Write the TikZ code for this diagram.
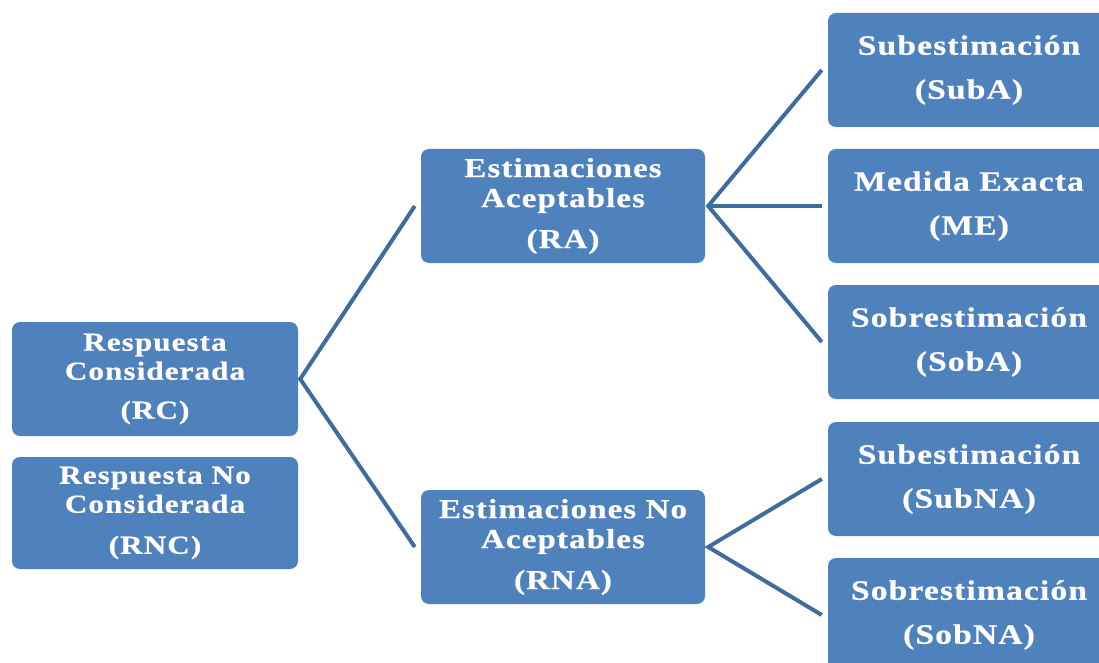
\documentclass[tikz,border=0pt]{standalone}
\usepackage{fontspec}
\newfontfamily\boxfont{Liberation Serif Bold}[LetterSpace=4,FakeStretch=1.2,FakeBold=0.6]
\definecolor{boxblue}{HTML}{4F81BD}
\definecolor{lineblue}{HTML}{3E6C9F}
\begin{document}
\begin{tikzpicture}[x=1pt,y=-1pt,
  box/.style={fill=boxblue,rounded corners=8pt,inner sep=0pt,align=center,text=white,font=\boxfont},
  leftbox/.style={box,minimum width=286pt,minimum height=114pt,font=\boxfont\fontsize{26}{29}\selectfont},
  midbox/.style={box,minimum width=284pt,minimum height=114pt,font=\boxfont\fontsize{27.5}{30}\selectfont},
  rightbox/.style={box,minimum width=282pt,minimum height=114pt,font=\boxfont\fontsize{28}{44}\selectfont},
  conn/.style={draw=lineblue,line width=4pt}]
\useasboundingbox (0,0) rectangle (1099,663);
\clip (0,0) rectangle (1099,663);
\node[leftbox] (RC) at (155,379) {Respuesta\\Considerada\\[10pt](RC)};
\node[leftbox,minimum height=112pt] (RNC) at (155,513) {Respuesta No\\Considerada\\[12pt](RNC)};
\node[midbox] (RA) at (563,206) {Estimaciones\\Aceptables\\[11pt](RA)};
\node[midbox] (RNA) at (563,547) {Estimaciones No\\Aceptables\\[11pt](RNA)};
\node[rightbox] (SubA) at (969,70) {Subestimación\\(SubA)};
\node[rightbox] (ME) at (969,206) {Medida Exacta\\(ME)};
\node[rightbox] (SobA) at (969,342) {Sobrestimación\\(SobA)};
\node[rightbox] (SubNA) at (969,479) {Subestimación\\(SubNA)};
\node[rightbox] (SobNA) at (969,615) {Sobrestimación\\(SobNA)};
\coordinate (rcout) at ([xshift=2pt]RC.east);
\coordinate (raout) at ([xshift=3pt]RA.east);
\coordinate (rnaout) at ([xshift=3pt]RNA.east);
\draw[conn] ([xshift=-6pt]RA.west) -- (rcout) -- ([xshift=-6pt]RNA.west);
\draw[conn] ([xshift=-6pt]SubA.west) -- (raout) -- ([xshift=-6pt]SobA.west);
\draw[conn] (raout) -- ([xshift=-6pt]ME.west);
\draw[conn] ([xshift=-6pt]SubNA.west) -- (rnaout) -- ([xshift=-6pt]SobNA.west);
\end{tikzpicture}
\end{document}
